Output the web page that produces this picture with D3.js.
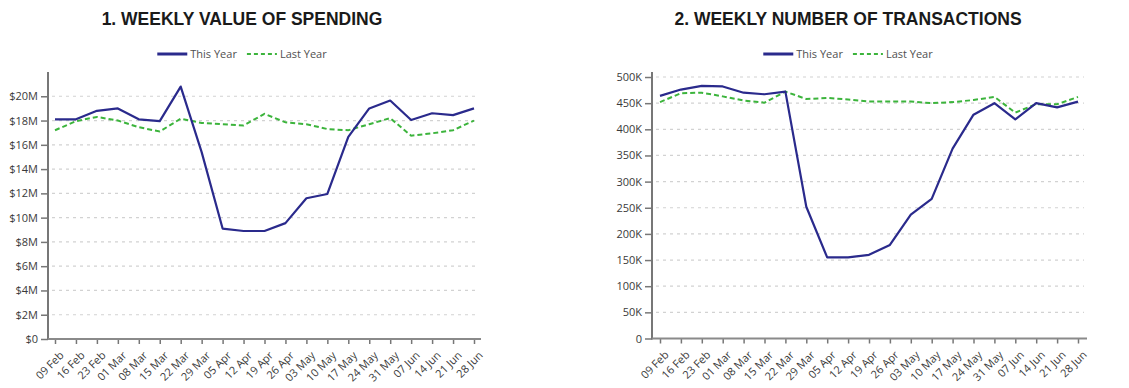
<!DOCTYPE html>
<html>
<head>
<meta charset="utf-8">
<script src="https://cdn.jsdelivr.net/npm/d3@7"></script>
<style>
  body { margin: 0; background: #fff; }
  svg { display: block; }
  .tick-label { font-family: "Open Sans", sans-serif; font-size: 11px; fill: #3a3a3a; }
  .legend-label { font-family: "Open Sans", sans-serif; font-size: 11px; fill: #505050; }
  .title { font-family: "Liberation Sans", Arial, sans-serif; font-size: 17.5px; font-weight: bold; fill: #1a1a1a; }
</style>
</head>
<body>
<svg id="chart" width="1129" height="388"></svg>
<script>
// Week-ending dates shared by both panels
const weeks = ["09 Feb", "16 Feb", "23 Feb", "01 Mar", "08 Mar", "15 Mar", "22 Mar",
  "29 Mar", "05 Apr", "12 Apr", "19 Apr", "26 Apr", "03 May", "10 May", "17 May",
  "24 May", "31 May", "07 Jun", "14 Jun", "21 Jun", "28 Jun"];

// Weekly value of spending, $ millions
const spendThisYear = [18.1, 18.1, 18.8, 19.0, 18.1, 17.95, 20.8, 15.4, 9.1, 8.9, 8.9,
  9.55, 11.6, 11.95, 16.65, 19.0, 19.65, 18.05, 18.6, 18.45, 19.0];
const spendLastYear = [17.2, 17.95, 18.3, 18.0, 17.45, 17.1, 18.15, 17.8, 17.7, 17.6, 18.55,
  17.85, 17.7, 17.3, 17.2, 17.7, 18.2, 16.75, 16.95, 17.2, 18.0];

// Weekly number of transactions, thousands
const txnThisYear = [464, 476, 483, 482, 470, 467, 472, 252, 155, 155, 160, 179, 237,
  267, 363, 428, 450, 419, 450, 442, 453];
const txnLastYear = [452, 469, 470, 463, 455, 451, 472, 458, 460, 457, 453, 453, 453,
  450, 452, 456, 462, 432, 448, 448, 462];

const spendTicks = [0, 2, 4, 6, 8, 10, 12, 14, 16, 18, 20];
const spendTickLabels = ["$0", "$2M", "$4M", "$6M", "$8M", "$10M", "$12M", "$14M", "$16M", "$18M", "$20M"];
const txnTicks = [0, 50, 100, 150, 200, 250, 300, 350, 400, 450, 500];
const txnTickLabels = ["0", "50K", "100K", "150K", "200K", "250K", "300K", "350K", "400K", "450K", "500K"];

const seriesNames = ["This Year", "Last Year"];

const COLOR_THIS = "#2a2a8c";
const COLOR_LAST = "#3cb43c";

const svg = d3.select("#chart");

function drawPanel(p) {
  const g = svg.append("g");

  const x = d3.scalePoint().domain(weeks).range([p.x0, p.x1]).padding(0);
  const y = d3.scaleLinear().domain([0, p.yMax]).range([p.yBottom, p.yTop]);

  // Title
  g.append("text").attr("class", "title")
    .attr("x", p.center).attr("y", 25)
    .attr("text-anchor", "middle")
    .text(p.title);

  // Dotted horizontal grid
  g.append("g").selectAll("line")
    .data(p.ticks.filter(d => d > 0))
    .join("line")
    .attr("x1", p.axisX + 4).attr("x2", p.gridEnd)
    .attr("y1", d => y(d)).attr("y2", d => y(d))
    .attr("stroke", "#d2d2d2").attr("stroke-width", 1.2)
    .attr("stroke-dasharray", "3,4");

  // Y axis
  const yAxis = d3.axisLeft(y)
    .tickValues(p.ticks)
    .tickFormat((d, i) => p.tickLabels[i])
    .tickSize(7).tickPadding(3);
  const ya = g.append("g").attr("transform", `translate(${p.axisX},0)`).call(yAxis);
  ya.select(".domain").remove();
  ya.selectAll(".tick line").attr("stroke", "#777").attr("stroke-width", 1.5);
  ya.selectAll(".tick text").attr("class", "tick-label");
  ya.attr("font-family", null).attr("font-size", null);
  g.append("line")
    .attr("x1", p.axisX).attr("x2", p.axisX)
    .attr("y1", p.yTop).attr("y2", p.yBottom + 1)
    .attr("stroke", "#777").attr("stroke-width", 2);

  // X axis
  const xAxis = d3.axisBottom(x).tickSize(5).tickPadding(4);
  const xa = g.append("g").attr("transform", `translate(0,${p.yBottom})`).call(xAxis);
  xa.select(".domain").remove();
  xa.attr("font-family", null).attr("font-size", null);
  xa.selectAll(".tick line").attr("stroke", "#777").attr("stroke-width", 1.5);
  xa.selectAll(".tick text")
    .attr("class", "tick-label")
    .attr("text-anchor", "end")
    .attr("x", 0).attr("y", 0).attr("dy", 0)
    .attr("transform", "translate(9,17) rotate(-45)");
  g.append("line")
    .attr("x1", p.axisX).attr("x2", p.gridEnd + 3)
    .attr("y1", p.yBottom).attr("y2", p.yBottom)
    .attr("stroke", "#8a8a8a").attr("stroke-width", 2);

  // Series lines
  const line = d3.line().x((d, i) => x(weeks[i])).y(d => y(d));
  g.append("path").datum(p.last)
    .attr("fill", "none").attr("stroke", COLOR_LAST).attr("stroke-width", 2)
    .attr("stroke-dasharray", "5,3")
    .attr("d", line);
  g.append("path").datum(p.current)
    .attr("fill", "none").attr("stroke", COLOR_THIS).attr("stroke-width", 2.2)
    .attr("stroke-linejoin", "round")
    .attr("d", line);

  // Legend
  const lg = g.append("g");
  const ly = 54;
  let cx = 0;
  const items = [
    { name: seriesNames[0], color: COLOR_THIS, dash: null },
    { name: seriesNames[1], color: COLOR_LAST, dash: "4,3" }
  ];
  items.forEach((it, k) => {
    if (k > 0) cx += 10;
    lg.append("line")
      .attr("x1", cx).attr("x2", cx + 30)
      .attr("y1", ly).attr("y2", ly)
      .attr("stroke", it.color)
      .attr("stroke-width", it.dash ? 1.8 : 3)
      .attr("stroke-dasharray", it.dash);
    cx += 33;
    const t = lg.append("text").attr("class", "legend-label")
      .attr("x", cx).attr("y", ly).attr("dy", "0.35em")
      .text(it.name);
    cx += t.node().getComputedTextLength();
  });
  lg.attr("transform", `translate(${p.center - cx / 2},0)`);
}

drawPanel({
  title: "1. WEEKLY VALUE OF SPENDING",
  center: 242,
  axisX: 48, x0: 55, x1: 474, gridEnd: 478,
  yBottom: 339, yTop: 72, yMax: 22,
  ticks: spendTicks, tickLabels: spendTickLabels,
  current: spendThisYear, last: spendLastYear
});

drawPanel({
  title: "2. WEEKLY NUMBER OF TRANSACTIONS",
  center: 848,
  axisX: 652, x0: 660, x1: 1078, gridEnd: 1084,
  yBottom: 338.5, yTop: 72, yMax: 509.6,
  ticks: txnTicks, tickLabels: txnTickLabels,
  current: txnThisYear, last: txnLastYear
});
</script>
</body>
</html>
